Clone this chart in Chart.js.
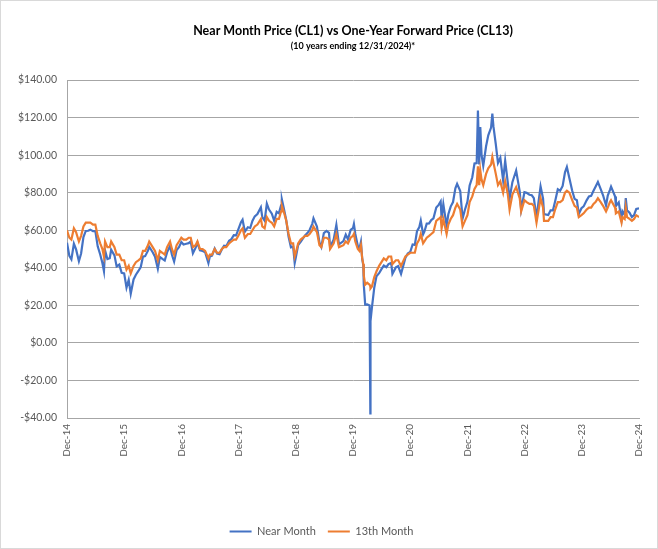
<!DOCTYPE html>
<html>
<head>
<meta charset="utf-8">
<script src="https://cdn.jsdelivr.net/npm/chart.js@4.4.1/dist/chart.umd.min.js"></script>
<style>
  html, body { margin: 0; padding: 0; background: #fff; }
  #wrap { width: 658px; height: 549px; box-sizing: border-box; border: 1px solid #d9d9d9; position: relative; }
</style>
</head>
<body>
<div id="wrap"><canvas id="oilChart"></canvas></div>
<script>
// Sample dates (roughly twice a month plus the turning points)
const dates = [
  '2014-12-31','2015-01-15','2015-01-28','2015-02-13','2015-02-27','2015-03-17','2015-03-31','2015-04-15','2015-04-30','2015-05-15','2015-05-29','2015-06-15','2015-06-30','2015-07-15','2015-07-31','2015-08-14','2015-08-24','2015-08-31','2015-09-15','2015-09-30','2015-10-09','2015-10-30','2015-11-13','2015-11-30','2015-12-15','2015-12-31',
  '2016-01-15','2016-01-29','2016-02-11','2016-02-29','2016-03-15','2016-03-31','2016-04-15','2016-04-29','2016-05-13','2016-05-31','2016-06-08','2016-06-30','2016-07-15','2016-08-02','2016-08-15','2016-08-31','2016-09-15','2016-09-30','2016-10-19','2016-10-31','2016-11-14','2016-11-30','2016-12-15','2016-12-30',
  '2017-01-13','2017-01-31','2017-02-15','2017-02-28','2017-03-14','2017-03-31','2017-04-12','2017-04-28','2017-05-15','2017-05-31','2017-06-21','2017-06-30','2017-07-14','2017-07-31','2017-08-15','2017-08-31','2017-09-15','2017-09-29','2017-10-13','2017-10-31','2017-11-15','2017-11-30','2017-12-15','2017-12-29',
  '2018-01-15','2018-01-25','2018-02-09','2018-02-28','2018-03-15','2018-03-29','2018-04-13','2018-04-30','2018-05-22','2018-05-31','2018-06-15','2018-06-29','2018-07-13','2018-07-31','2018-08-15','2018-08-31','2018-09-14','2018-09-28','2018-10-03','2018-10-15','2018-10-31','2018-11-15','2018-11-30','2018-12-14','2018-12-24','2018-12-31',
  '2019-01-15','2019-01-31','2019-02-15','2019-02-28','2019-03-15','2019-03-29','2019-04-15','2019-04-23','2019-05-15','2019-05-31','2019-06-12','2019-06-28','2019-07-15','2019-07-31','2019-08-07','2019-08-30','2019-09-16','2019-09-30','2019-10-03','2019-10-31','2019-11-15','2019-11-29','2019-12-16','2019-12-31',
  '2020-01-06','2020-01-15','2020-01-31','2020-02-10','2020-02-20','2020-02-28','2020-03-06','2020-03-09','2020-03-18','2020-03-31','2020-04-15','2020-04-20','2020-04-21','2020-04-30','2020-05-15','2020-05-29','2020-06-15','2020-06-30','2020-07-15','2020-07-31','2020-08-14','2020-08-31','2020-09-08','2020-09-30','2020-10-15','2020-11-02','2020-11-13','2020-11-30','2020-12-15','2020-12-31',
  '2021-01-15','2021-01-29','2021-02-12','2021-02-26','2021-03-08','2021-03-23','2021-03-31','2021-04-15','2021-04-30','2021-05-14','2021-05-28','2021-06-15','2021-06-30','2021-07-13','2021-07-19','2021-07-30','2021-08-20','2021-08-31','2021-09-15','2021-09-30','2021-10-15','2021-10-26','2021-11-15','2021-11-30','2021-12-15','2021-12-31',
  '2022-01-14','2022-01-31','2022-02-14','2022-02-28','2022-03-08','2022-03-16','2022-03-23','2022-03-31','2022-04-11','2022-04-29','2022-05-13','2022-05-31','2022-06-08','2022-06-15','2022-06-30','2022-07-14','2022-07-29','2022-08-16','2022-08-29','2022-09-15','2022-09-26','2022-10-14','2022-11-07','2022-11-30','2022-12-09','2022-12-30',
  '2023-01-13','2023-01-31','2023-02-15','2023-02-28','2023-03-17','2023-03-31','2023-04-12','2023-04-28','2023-05-04','2023-05-31','2023-06-15','2023-06-30','2023-07-14','2023-07-31','2023-08-15','2023-08-31','2023-09-15','2023-09-27','2023-10-13','2023-10-31','2023-11-15','2023-11-30','2023-12-12','2023-12-29',
  '2024-01-12','2024-01-31','2024-02-15','2024-02-29','2024-03-15','2024-03-28','2024-04-12','2024-04-30','2024-05-15','2024-06-03','2024-06-14','2024-06-28','2024-07-05','2024-07-31','2024-08-05','2024-08-23','2024-09-10','2024-09-16','2024-09-30','2024-10-07','2024-10-15','2024-10-31','2024-11-15','2024-11-29','2024-12-13','2024-12-31'
];

// Near Month (CL1), $/bbl
const nearMonth = [
  53.3,46.3,44.5,52.8,49.8,43.5,47.6,56.4,59.6,59.7,60.3,59.5,59.5,51.4,47.1,42.5,38.2,49.2,44.6,45.1,49.6,46.6,40.7,41.7,37.3,37.0,
  29.4,33.6,26.2,33.8,36.3,38.3,40.4,45.9,46.2,49.1,51.2,48.3,45.9,39.5,45.7,44.7,43.9,48.2,51.6,46.9,43.3,49.4,51.0,53.7,
  52.4,52.8,53.1,54.0,47.7,50.6,53.4,49.3,48.9,48.3,42.5,46.0,46.5,50.2,47.6,47.2,49.9,51.7,51.5,54.4,55.3,57.4,57.3,60.4,
  64.3,65.6,59.2,61.6,61.2,64.9,67.4,68.6,72.2,67.0,65.1,74.2,71.0,68.8,65.0,69.8,69.0,73.3,76.4,71.8,65.3,56.5,50.9,51.2,42.5,45.4,
  52.1,53.8,55.6,57.2,58.5,60.1,63.4,66.3,62.0,53.5,51.1,58.5,59.6,58.6,51.1,55.1,62.9,54.1,52.5,54.2,57.7,55.2,60.2,61.1,
  63.3,58.0,51.6,50.0,53.8,44.8,41.3,31.1,20.4,20.5,19.9,-37.6,11.6,18.8,29.4,35.5,37.1,39.3,41.2,40.3,42.0,42.6,36.8,40.2,40.9,36.8,40.1,45.3,47.6,48.5,
  52.4,52.2,59.5,61.5,65.1,57.8,59.2,63.5,63.6,65.4,66.3,72.1,73.5,75.3,66.4,73.9,62.3,68.5,72.6,75.0,82.3,84.7,80.9,66.2,70.9,75.2,
  83.8,88.2,95.5,95.7,123.7,95.0,114.9,100.3,94.3,104.7,110.5,114.7,122.1,115.3,105.8,95.8,98.6,86.5,97.0,85.1,76.7,85.6,91.8,80.6,71.0,80.3,
  79.9,78.9,78.6,77.1,66.7,75.7,83.3,76.8,68.6,68.1,70.6,70.6,75.4,81.8,81.0,83.6,90.8,93.7,87.7,81.0,76.7,76.0,68.6,71.7,
  72.7,75.9,78.0,78.3,81.0,83.2,85.7,81.9,78.6,73.2,78.5,81.5,83.2,77.9,72.9,74.8,65.8,70.1,68.2,77.1,70.6,69.3,67.0,68.0,71.3,71.7
];

// 13th Month (CL13), $/bbl
const month13 = [
  60,56,55,61,59,54,57,62,64,64,64,63,63,57,53,50,46,54,51,51,54,51,47,47,44,44,
  39,41,37,41,43,44,45,49,49,52,54,51,49,44,49,48,47,51,54,50,47,52,54,56,
  55,55,56,56,51,52,54,50,50,49,45,47,47,50,48,48,50,51,51,53,54,55,55,57,
  60,61,56,58,58,60,62,63,66,62,61,67,65,64,62,66,66,70,73,70,65,58,53,53,46,48,
  53,55,56,57,57,58,60,62,59,52,51,56,56,55,50,53,58,52,51,52,54,53,56,57,
  58,54,50,49,52,45,42,36,31,32,31,30,29,30,35,38,41,43,45,44,46,46,42,44,44,41,43,46,47,48,
  48,48,53,55,58,53,54,56,57,58,59,65,66,67,61,66,58,63,66,68,72,74,71,62,65,68,
  75,78,82,84,94,84,92,87,84,90,93,95,99,96,90,84,86,80,86,79,71,79,83,77,70,76,
  75,74,74,73,64,71,77,72,65,65,67,67,71,75,75,76,80,81,80,76,73,72,67,68,
  69,71,72,72,74,75,77,75,73,70,72,75,76,72,69,70,64,67,66,72,67,66,65,66,68,67
];

const xTickLabels = ['Dec-14','Dec-15','Dec-16','Dec-17','Dec-18','Dec-19','Dec-20','Dec-21','Dec-22','Dec-23','Dec-24'];
const seriesNames = ['Near Month', '13th Month'];
const titleText = 'Near Month Price (CL1) vs One-Year Forward Price (CL13)';
const subtitleText = '(10 years ending 12/31/2024)*';

// years since the first date, for the linear x axis
const t0 = Date.parse(dates[0]);
function yearsSince(d) {
  return (Date.parse(d) - t0) / 86400000 / 365.25;
}

function toPoints(values) {
  return dates.map((d, i) => ({ x: yearsSince(d), y: values[i] }));
}

Chart.defaults.font.family = 'Lato, "Open Sans", sans-serif';
Chart.defaults.color = '#595959';

// title + subtitle centred over the plot area
const titlePlugin = {
  id: 'plotTitle',
  afterDraw(chart) {
    const ctx = chart.ctx;
    const cx = (chart.chartArea.left + chart.chartArea.right) / 2;
    ctx.save();
    ctx.fillStyle = '#000';
    ctx.textAlign = 'center';
    ctx.textBaseline = 'middle';
    ctx.font = 'bold 12.5px Lato, sans-serif';
    ctx.fillText(titleText, cx, 30);
    ctx.font = 'bold 9px Lato, sans-serif';
    ctx.fillText(subtitleText, cx, 45);
    ctx.restore();
  }
};

const ctx = document.getElementById('oilChart').getContext('2d');
const oilChart = new Chart(ctx, {
  type: 'line',
  data: {
    datasets: [{
      label: seriesNames[0],
      data: toPoints(nearMonth),
      borderColor: '#4472C4',
      backgroundColor: '#4472C4',
      borderWidth: 2.2,
      pointRadius: 0,
      tension: 0,
      order: 2
    }, {
      label: seriesNames[1],
      data: toPoints(month13),
      borderColor: '#ED7D31',
      backgroundColor: '#ED7D31',
      borderWidth: 2.2,
      pointRadius: 0,
      tension: 0,
      order: 1
    }]
  },
  options: {
    responsive: true,
    maintainAspectRatio: false,
    animation: false,
    layout: { padding: { top: 79, left: 0, right: 15, bottom: 1 } },
    plugins: {
      tooltip: { enabled: false },
      legend: {
        position: 'bottom',
        labels: {
          boxWidth: 22,
          boxHeight: 2,
          padding: 12,
          font: { size: 11 },
          sort: (a, b) => a.datasetIndex - b.datasetIndex,
          generateLabels(chart) {
            const items = Chart.defaults.plugins.legend.labels.generateLabels(chart);
            items.forEach(it => { it.lineWidth = 0; });
            return items;
          }
        }
      }
    },
    scales: {
      x: {
        type: 'linear',
        min: 0,
        max: 10,
        grid: { display: false, drawTicks: false },
        border: { display: true, color: '#a6a6a6', width: 1 },
        ticks: {
          stepSize: 1,
          autoSkip: false,
          maxRotation: 90,
          minRotation: 90,
          padding: 6,
          font: { size: 10 },
          callback: (v) => xTickLabels[v]
        },
        afterFit(scale) { scale.height = 96; }
      },
      y: {
        min: -40,
        max: 140,
        grid: { color: '#a6a6a6', drawTicks: false },
        border: { display: true, color: '#a6a6a6', width: 1 },
        ticks: {
          stepSize: 20,
          padding: 10,
          font: { size: 10.5 },
          callback: (v) => (v < 0 ? '-' : '') + '$' + Math.abs(v).toFixed(2)
        },
        afterFit(scale) { scale.width = 66; }
      }
    }
  },
  plugins: [titlePlugin]
});
</script>
</body>
</html>
